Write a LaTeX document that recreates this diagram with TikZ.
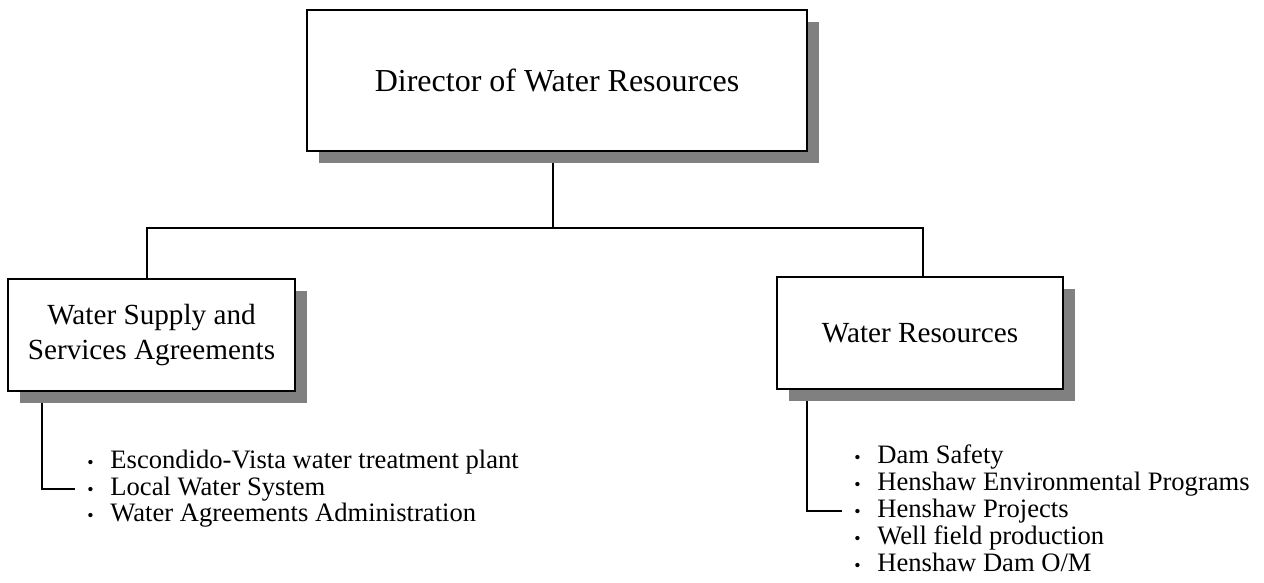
\documentclass[tikz,border=0pt]{standalone}
\usepackage{fontspec}
\setmainfont{Liberation Serif}
\usetikzlibrary{positioning,shadows,backgrounds}

\newcommand{\itembul}{\makebox[11.5pt][l]{\fontsize{9}{9}\selectfont\textbullet}}

\begin{document}
\begin{tikzpicture}[x=0.5pt,y=-0.5pt,
    unit/.style={draw, line width=1.35pt, fill=white, align=center,
      drop shadow={shadow xshift=6pt, shadow yshift=-6pt, fill=black!50, opacity=1}},
    link/.style={line width=1pt},
    duty/.style={anchor=west, inner sep=0pt, text height=10pt, text depth=3.5pt,
      font=\fontsize{13.3}{13.5}\selectfont}]
    \useasboundingbox (0,0) rectangle (1264,583);
    % boxes
    \node[unit, minimum width=250pt, minimum height=70.5pt, font=\fontsize{16}{19}\selectfont] (dir) at (557,80.5) {Director of Water Resources};
    \node[unit, minimum width=143.5pt, minimum height=56pt, font=\fontsize{14.6}{17.5}\selectfont] (wss) at (151.5,335) {Water Supply and\\Services Agreements};
    \node[unit, minimum width=143pt, minimum height=56pt, font=\fontsize{14.6}{17.5}\selectfont] (wr) at (920,333) {Water Resources};
    % duties
    \foreach \txt [count=\i] in {Escondido-Vista water treatment plant, Local Water System, Water Agreements Administration}
      \node[duty] (wss-\i) at (87,{435.5+26.5*\i}) {\itembul\txt};
    \foreach \txt [count=\i] in {Dam Safety, Henshaw Environmental Programs, Henshaw Projects, Well field production, Henshaw Dam O/M}
      \node[duty] (wr-\i) at (854,{430+27*\i}) {\itembul\txt};
    % links
    \coordinate (hub) at (553,228);
    \coordinate (dropL) at (147,228);
    \coordinate (dropR) at (923,228);
    \begin{scope}[on background layer]
      \draw[link] (dir.south -| hub) -- (hub);
      \draw[link] (dropL |- wss.north) -- (dropL) -- (dropR) -- (dropR |- wr.north);
      \draw[link] ([xshift=17.5pt]wss.south west) |- ([xshift=-6pt]wss-2.west);
      \draw[link] ([xshift=15.5pt]wr.south west) |- ([xshift=-6pt]wr-3.west);
    \end{scope}
\end{tikzpicture}
\end{document}
